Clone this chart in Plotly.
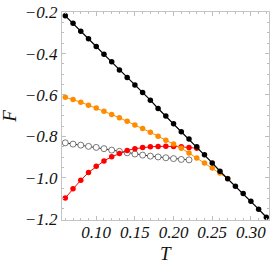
import plotly.graph_objects as go

# Temperatures
T_black = [round(0.06 + 0.01 * i, 2) for i in range(27)]  # 0.06 .. 0.32
F_black = [-0.218, -0.254, -0.292, -0.329, -0.366, -0.404, -0.440, -0.479, -0.515,
           -0.552, -0.588, -0.625, -0.665, -0.702, -0.739, -0.777, -0.813, -0.850,
           -0.889, -0.928, -0.968, -1.004, -1.041, -1.076, -1.113, -1.151, -1.190]

T_orange = [round(0.06 + 0.01 * i, 2) for i in range(22)]  # 0.06 .. 0.27
F_orange = [-0.611, -0.622, -0.635, -0.649, -0.663, -0.678, -0.694, -0.710, -0.727,
            -0.745, -0.762, -0.780, -0.799, -0.818, -0.837, -0.857, -0.880, -0.904,
            -0.928, -0.952, -0.976, -1.003]

T_red = [round(0.06 + 0.01 * i, 2) for i in range(18)]  # 0.06 .. 0.23
F_red = [-1.097, -1.052, -1.011, -0.974, -0.944, -0.918, -0.898, -0.882, -0.868,
         -0.859, -0.853, -0.850, -0.848, -0.847, -0.848, -0.850, -0.853, -0.857]

T_open = [round(0.06 + 0.01 * i, 2) for i in range(17)]  # 0.06 .. 0.22
F_open = [-0.831, -0.837, -0.842, -0.848, -0.853, -0.859, -0.866, -0.872, -0.879,
          -0.885, -0.890, -0.895, -0.899, -0.903, -0.907, -0.911, -0.913]

x_ticks = [0.10, 0.15, 0.20, 0.25, 0.30]
y_ticks = [-1.2, -1.0, -0.8, -0.6, -0.4, -0.2]

fig = go.Figure()
fig.add_trace(go.Scatter(x=T_open, y=F_open, mode="lines+markers",
                         line=dict(color="#333333", width=1),
                         marker=dict(symbol="circle", size=6, color="white",
                                     line=dict(color="#555555", width=0.8))))
fig.add_trace(go.Scatter(x=T_red, y=F_red, mode="lines+markers",
                         line=dict(color="#ff0000", width=1),
                         marker=dict(size=5.5, color="#ff0000", line=dict(width=0))))
fig.add_trace(go.Scatter(x=T_orange, y=F_orange, mode="lines+markers",
                         line=dict(color="#ff8c00", width=1),
                         marker=dict(size=5.5, color="#ff8c00", line=dict(width=0))))
fig.add_trace(go.Scatter(x=T_black, y=F_black, mode="lines+markers",
                         line=dict(color="#000000", width=1.2),
                         marker=dict(size=5.5, color="#000000", line=dict(width=0))))

tickfont = dict(family="Liberation Serif", size=17, color="#111111", style="italic")
axis_common = dict(showgrid=False, zeroline=False, showline=True, linecolor="#c4c4c4",
                   linewidth=1, mirror="ticks", ticks="inside", ticklen=4,
                   tickcolor="#bdbdbd", tickwidth=1, tickfont=tickfont)

fig.update_layout(
    width=273, height=264,
    margin=dict(l=62, r=3, t=10, b=44),
    paper_bgcolor="white", plot_bgcolor="white",
    showlegend=False,
    xaxis=dict(range=[0.05573, 0.32342], tickvals=x_ticks,
               ticktext=[f"{v:.2f}" for v in x_ticks],
               ticklabelstandoff=-3,
               minor=dict(dtick=0.01, tick0=0.0, ticks="inside", ticklen=2,
                          tickcolor="#bdbdbd"),
               **axis_common),
    yaxis=dict(range=[-1.2033, -0.1995], tickvals=y_ticks,
               ticktext=["\u2212" + f"{abs(v):.1f}" for v in y_ticks],
               minor=dict(dtick=0.05, tick0=0.0, ticks="inside", ticklen=2,
                          tickcolor="#bdbdbd"),
               **axis_common),
    annotations=[
        dict(text="T", xref="paper", yref="paper", x=0.5, y=-0.16,
             xanchor="center", yanchor="middle", showarrow=False,
             font=dict(family="Liberation Serif", size=19, color="#111111", style="italic")),
        dict(text="F", xref="paper", yref="paper", x=-0.257, y=0.5,
             xanchor="center", yanchor="middle", showarrow=False, textangle=-90,
             font=dict(family="Liberation Serif", size=19, color="#111111", style="italic")),
    ],
)

fig.write_html("out.html", include_plotlyjs=True, full_html=True,
               config={"displayModeBar": False},
               post_script="document.body.style.margin='0px';document.body.style.overflow='hidden';")
